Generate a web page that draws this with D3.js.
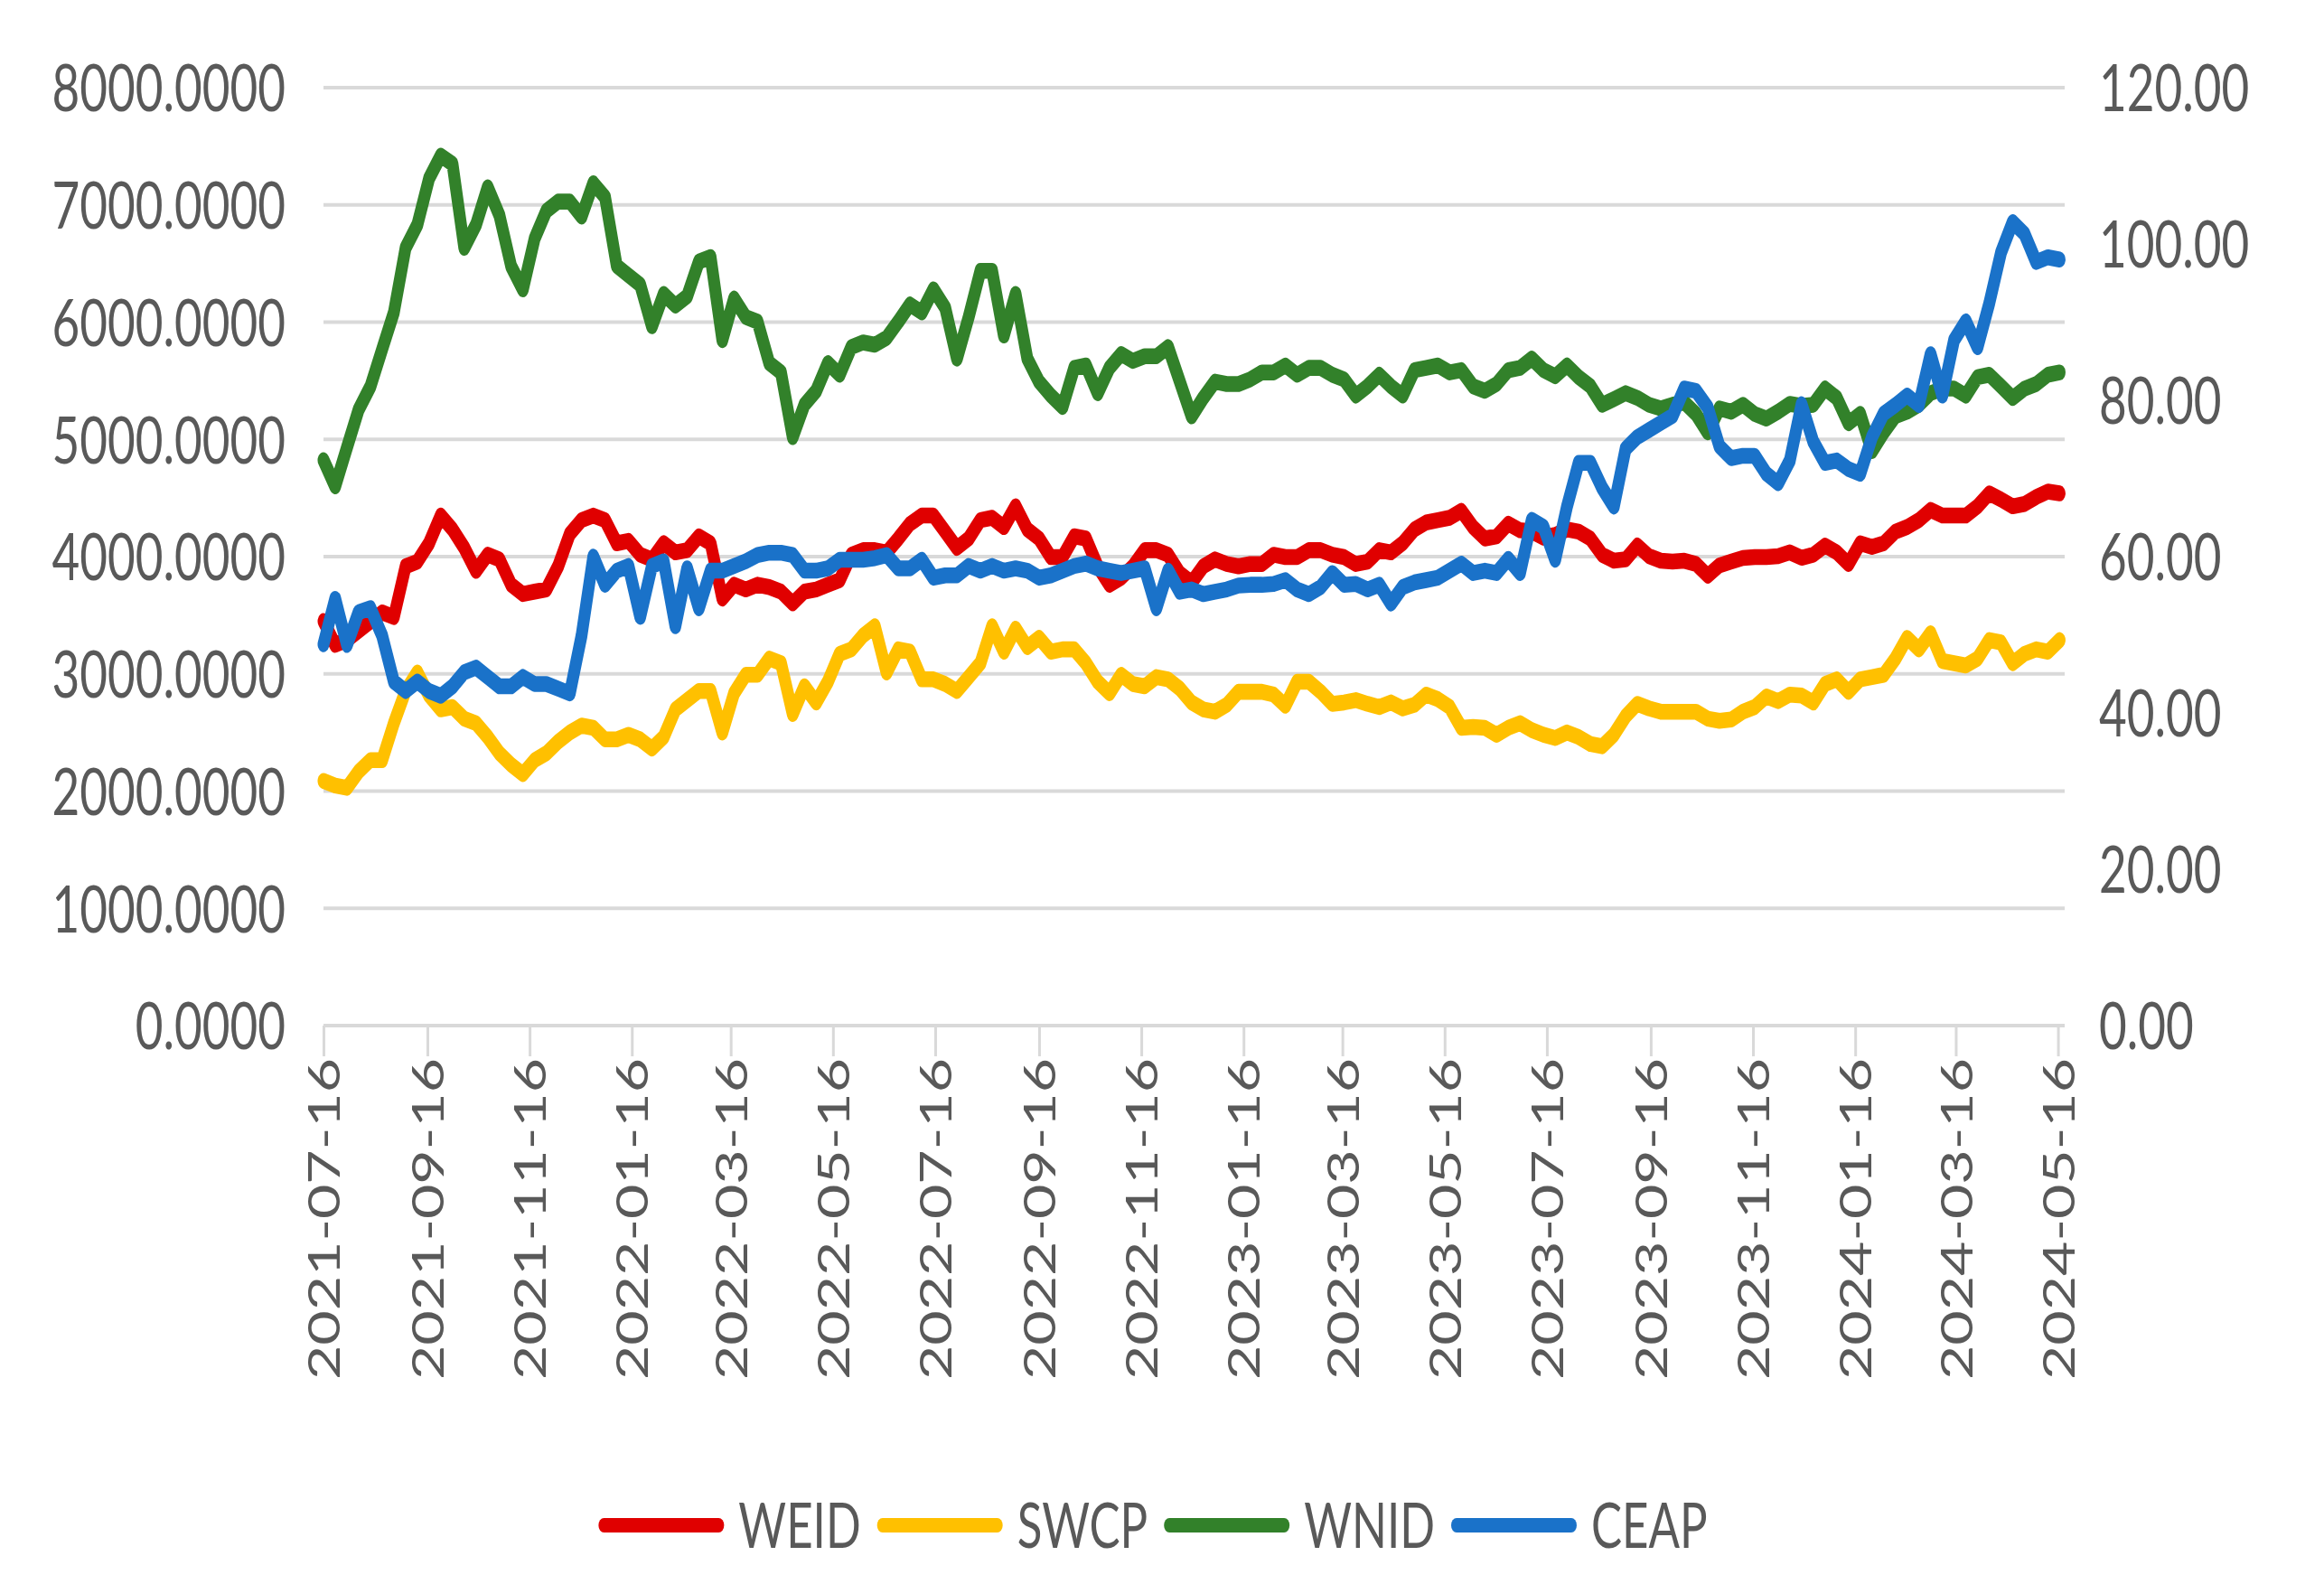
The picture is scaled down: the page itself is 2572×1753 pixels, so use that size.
<!DOCTYPE html>
<html>
<head>
<meta charset="utf-8">
<script src="https://cdn.jsdelivr.net/npm/d3@7"></script>
<style>
  body { margin: 0; background: #fff; }
  svg { display: block; }
</style>
</head>
<body>
<div id="chart"></div>
<script>
// weekly readings, first week 2021-07-16
var startDay = "2021-07-16";

var tickLabels = ["2021-07-16", "2021-09-16", "2021-11-16", "2022-01-16", "2022-03-16", "2022-05-16",
  "2022-07-16", "2022-09-16", "2022-11-16", "2023-01-16", "2023-03-16", "2023-05-16",
  "2023-07-16", "2023-09-16", "2023-11-16", "2024-01-16", "2024-03-16", "2024-05-16"];

var leftTicks = [0, 1000, 2000, 3000, 4000, 5000, 6000, 7000, 8000];
var rightTicks = [0, 20, 40, 60, 80, 100, 120];

var seriesNames = ["WEID", "SWCP", "WNID", "CEAP"];

var weid = [3450,3248,3288,3366,3445,3524,3484,3917,3957,4114,4350,4232,4075,3878,4016,3976,3760,3681,3701,3720,3917,4193,4311,4350,4311,4114,
  4134,4016,3976,4114,4036,4055,4173,4114,3642,3760,3720,3760,3740,3701,3602,3701,3720,3760,3799,4016,4055,4055,4036,4154,4280,
  4350,4350,4213,4075,4154,4311,4331,4252,4429,4232,4154,3996,3996,4173,4154,3917,3760,3819,3917,4055,4055,4016,3858,3780,3917,
  3976,3937,3917,3937,3937,4016,3996,3996,4055,4055,4016,3996,3937,3957,4055,4036,4114,4232,4291,4311,4331,4390,4252,4154,4173,4280,
  4225,4213,4162,4185,4232,4213,4154,4016,3965,3976,4094,4004,3965,3957,3965,3937,3838,3925,3957,3988,3996,3996,4004,4036,3990,
  4016,4094,4036,3937,4114,4083,4114,4213,4252,4311,4398,4350,4350,4350,4429,4539,4488,4429,4449,4508,4555,4539];

var swcp = [2087,2047,2028,2166,2264,2264,2579,2854,3012,2815,2697,2717,2618,2579,2461,2323,2225,2146,2264,2323,2421,2500,2559,2540,2441,2441,
  2480,2441,2363,2461,2697,2776,2854,2854,2500,2835,2992,2992,3130,3091,2658,2894,2756,2933,3170,3209,3327,3406,3012,3209,3190,
  2953,2953,2913,2854,2972,3091,3406,3189,3386,3228,3307,3189,3209,3209,3091,2933,2835,2992,2913,2894,2972,2953,2874,2756,2697,
  2677,2736,2847,2847,2847,2823,2728,2933,2933,2847,2744,2756,2776,2744,2717,2756,2705,2736,2823,2784,2717,2540,2547,2540,2481,2540,
  2579,2520,2481,2453,2500,2461,2402,2382,2481,2638,2744,2705,2677,2677,2677,2677,2618,2599,2610,2677,2717,2807,2768,2823,2815,
  2756,2913,2953,2847,2953,2972,2992,3130,3307,3209,3347,3110,3091,3071,3130,3288,3268,3091,3170,3209,3189,3288];

var wnid = [4823,4600,4930,5255,5450,5768,6083,6634,6830,7225,7420,7350,6634,6830,7150,6910,6476,6280,6713,6949,7028,7028,6900,7185,7067,6480,
  6398,6319,5965,6240,6142,6221,6516,6555,5847,6201,6043,6004,5650,5571,5020,5295,5413,5650,5551,5787,5827,5807,5866,6004,6150,
  6083,6280,6122,5689,6043,6437,6437,5886,6240,5689,5492,5374,5276,5610,5630,5394,5610,5728,5669,5709,5709,5787,5492,5197,5354,
  5492,5472,5472,5512,5571,5571,5630,5551,5610,5610,5551,5512,5374,5453,5551,5453,5374,5591,5610,5630,5571,5591,5453,5414,5472,5590,
  5610,5689,5591,5539,5630,5531,5453,5295,5343,5394,5354,5295,5264,5295,5315,5217,5059,5264,5236,5295,5217,5177,5236,5303,5285,
  5295,5433,5354,5138,5217,4900,5059,5197,5236,5295,5394,5433,5433,5374,5531,5551,5453,5354,5433,5472,5551,5571];

// CEAP is read on the right-hand axis
var ceap = [48.8,54.6,48.7,52.9,53.4,49.9,44.0,42.8,44.0,42.8,42.2,43.4,45.2,45.8,44.6,43.4,43.4,44.6,43.7,43.7,43.1,42.5,49.9,60.0,56.4,58.2,
  58.8,52.3,58.8,59.4,51.1,58.5,53.4,58.2,58.2,58.8,59.4,60.2,60.5,60.5,60.2,58.2,58.2,58.5,59.6,59.6,59.6,59.8,60.2,58.5,58.5,
  59.6,57.3,57.6,57.6,58.8,58.2,58.8,58.2,58.5,58.2,57.3,57.6,58.2,58.8,59.1,58.5,58.2,57.9,58.2,58.5,53.4,58.2,55.5,55.8,55.2,
  55.5,55.8,56.3,56.4,56.4,56.5,57.0,55.8,55.2,56.1,57.9,56.4,56.5,55.8,56.4,54.0,56.1,56.7,57.0,57.3,58.2,59.1,57.9,58.2,57.9,59.7,
  57.9,64.7,63.8,59.6,66.4,72.0,72.0,68.8,66.4,73.8,75.3,76.2,77.1,78.0,81.5,81.2,79.1,74.1,72.6,72.9,72.9,70.6,69.4,72.3,79.5,
  74.7,72.0,72.3,71.2,70.6,75.3,78.3,79.4,80.6,79.4,85.9,80.6,87.7,90.1,86.8,92.4,98.9,102.8,101.3,97.7,98.3,98.0];

var colors = ["#e00000", "#ffc000", "#32812a", "#1a72c9"];

// the original picture is stretched vertically, so draw in a squashed box and let the svg stretch it
var S = 1.35;
var W = 2572, H = 1753 / S;
var font = "Lato, 'Open Sans', sans-serif";
var textColor = "#595959";

var parse = d3.utcParse("%Y-%m-%d");
var t0 = parse(startDay);
var dates = d3.range(weid.length).map(function (i) { return d3.utcDay.offset(t0, 7 * i); });

var plotLeft = 358, plotRight = 2285, plotTop = 97 / S, plotBottom = 1135 / S;

var x = d3.scaleUtc()
  .domain([t0, parse("2024-05-20")])
  .range([plotLeft, plotRight]);
var yL = d3.scaleLinear().domain([0, 8000]).range([plotBottom, plotTop]);
var yR = d3.scaleLinear().domain([0, 120]).range([plotBottom, plotTop]);

var svg = d3.select("#chart")
  .append("svg")
    .attr("width", 2572)
    .attr("height", 1753)
    .attr("viewBox", "0 0 " + W + " " + H)
    .attr("preserveAspectRatio", "none")
    .style("font-family", font);

// gridlines
svg.append("g")
  .selectAll("line")
  .data(leftTicks.slice(1))
  .enter()
  .append("line")
    .attr("x1", plotLeft)
    .attr("x2", plotRight)
    .attr("y1", function (d) { return yL(d); })
    .attr("y2", function (d) { return yL(d); })
    .attr("stroke", "#d9d9d9")
    .attr("stroke-width", 3);

// left axis labels
var gl = svg.append("g")
  .attr("transform", "translate(" + plotLeft + ",0)")
  .call(d3.axisLeft(yL).tickValues(leftTicks).tickFormat(function (d) { return d.toFixed(4); }).tickSize(0).tickPadding(42));
gl.select(".domain").remove();
gl.selectAll("text").attr("font-size", 53).attr("font-family", font).attr("fill", textColor).attr("dy", "0.36em");

// right axis labels
var gr = svg.append("g")
  .attr("transform", "translate(" + plotRight + ",0)")
  .call(d3.axisRight(yR).tickValues(rightTicks).tickFormat(function (d) { return d.toFixed(2); }).tickSize(0).tickPadding(38));
gr.select(".domain").remove();
gr.selectAll("text").attr("font-size", 53).attr("font-family", font).attr("fill", textColor).attr("dy", "0.36em");

// x axis
var tickDates = tickLabels.map(parse);
var gx = svg.append("g")
  .attr("transform", "translate(0," + plotBottom + ")")
  .call(d3.axisBottom(x).tickValues(tickDates).tickSize(34 / S).tickFormat(d3.utcFormat("%Y-%m-%d")));
gx.select(".domain")
  .attr("d", "M" + plotLeft + ",0H" + plotRight)
  .attr("stroke", "#d9d9d9")
  .attr("stroke-width", 3);
gx.selectAll(".tick line").attr("stroke", "#d9d9d9").attr("stroke-width", 3);
gx.selectAll(".tick text")
  .attr("font-size", 49)
  .attr("font-family", font)
  .attr("fill", textColor)
  .attr("text-anchor", "end")
  .attr("x", 0)
  .attr("y", 0)
  .attr("dy", "0.36em")
  .attr("transform", "translate(0," + (36 / S) + ") rotate(-90)");

// series lines
var seriesValues = [weid, swcp, wnid, ceap];
seriesValues.forEach(function (vals, i) {
  var yScale = i === 3 ? yR : yL;
  var line = d3.line()
    .x(function (d, j) { return x(dates[j]); })
    .y(function (d) { return yScale(d); });
  svg.append("path")
    .datum(vals)
    .attr("d", line)
    .attr("fill", "none")
    .attr("stroke", colors[i])
    .attr("stroke-width", 13)
    .attr("stroke-linejoin", "round")
    .attr("stroke-linecap", "round");
});

// legend
var legend = svg.append("g");
var ly = 1688 / S;
var lineLen = 139, gapText = 16, gapItem = 18;
var items = legend.selectAll("g")
  .data(seriesNames)
  .enter()
  .append("g");
items.append("line")
  .attr("x1", 6).attr("x2", lineLen - 6)
  .attr("y1", 0).attr("y2", 0)
  .attr("stroke", function (d, i) { return colors[i]; })
  .attr("stroke-width", 12)
  .attr("stroke-linecap", "round");
items.append("text")
  .attr("x", lineLen + gapText)
  .attr("dy", "0.36em")
  .attr("font-size", 51)
  .attr("fill", textColor)
  .text(function (d) { return d; });

var widths = [];
items.select("text").each(function () { widths.push(this.getComputedTextLength()); });
var total = d3.sum(widths) + seriesNames.length * (lineLen + gapText) + (seriesNames.length - 1) * gapItem;
var cx = 1276 - total / 2;
items.attr("transform", function (d, i) {
  var pos = cx;
  for (var j = 0; j < i; j++) pos += lineLen + gapText + widths[j] + gapItem;
  return "translate(" + pos + "," + ly + ")";
});
</script>
</body>
</html>
